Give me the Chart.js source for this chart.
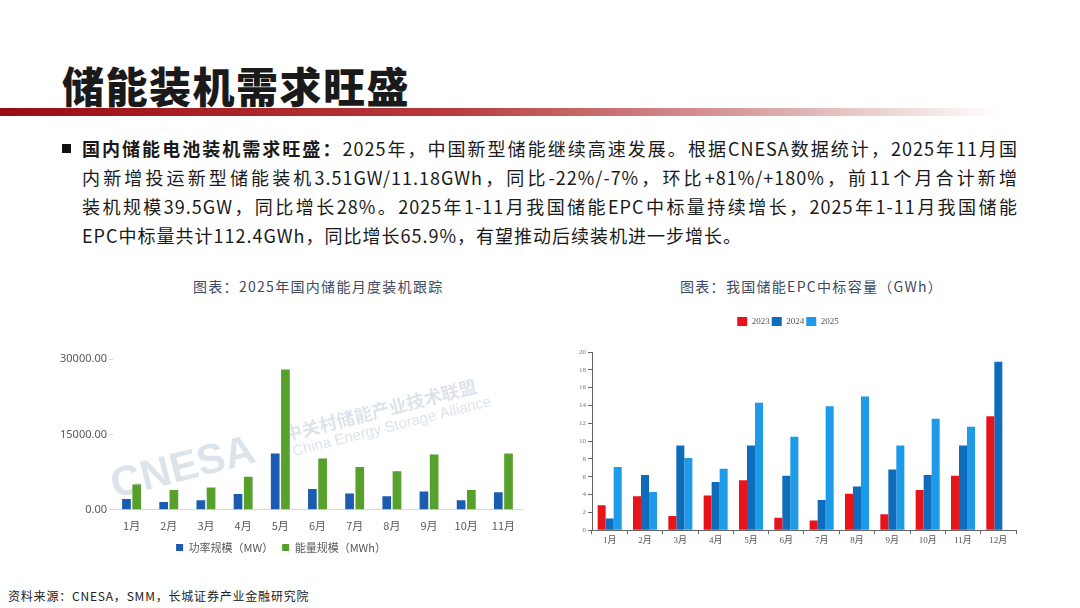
<!DOCTYPE html>
<html>
<head>
<meta charset="utf-8">
<script src="https://cdn.jsdelivr.net/npm/chart.js@4.4.1/dist/chart.umd.min.js"></script>
<style>
  html, body { margin: 0; padding: 0; background: #fff; }
  body { width: 1080px; height: 608px; position: relative; overflow: hidden;
         font-family: "Noto Sans CJK SC", "Noto Sans", sans-serif; }
  .title { position: absolute; left: 62px; top: 58px; font-size: 42px; font-weight: 900;
           letter-spacing: 1.5px; color: #1a1a1a; line-height: 54px; }
  .redbar { position: absolute; left: 0; top: 108px; width: 1000px; height: 8px;
            background: linear-gradient(to right, #9b0c10 0%, #b83a3c 45%, #d9a0a0 75%, #ffffff 100%); }
  .bullet { position: absolute; left: 62px; top: 144px; width: 9px; height: 9px; background: #111; }
  .body { position: absolute; left: 82px; top: 134px; width: 936px; font-size: 18px;
          line-height: 29px; color: #1a1a1a; letter-spacing: 1px; }
  .body div { white-space: nowrap; }
  .body .j { text-align: justify; text-align-last: justify; white-space: normal; }
  .ctitle { position: absolute; top: 276px; font-size: 14px; color: #3d4a63; letter-spacing: 1.3px; }
  .src { position: absolute; left: 8px; top: 587px; font-size: 12px; color: #222; letter-spacing: 0.8px; }
  .box { position: absolute; }
</style>
</head>
<body>
<div class="title">储能装机需求旺盛</div>
<div class="redbar"></div>
<div class="bullet"></div>
<div class="body">
  <div class="j"><b>国内储能电池装机需求旺盛：</b>2025年，中国新型储能继续高速发展。根据CNESA数据统计，2025年11月国</div>
  <div class="j">内新增投运新型储能装机3.51GW/11.18GWh，同比-22%/-7%，环比+81%/+180%，前11个月合计新增</div>
  <div class="j">装机规模39.5GW，同比增长28%。2025年1-11月我国储能EPC中标量持续增长，2025年1-11月我国储能</div>
  <div>EPC中标量共计112.4GWh，同比增长65.9%，有望推动后续装机进一步增长。</div>
</div>
<div class="ctitle" style="left:193px;">图表：2025年国内储能月度装机跟踪</div>
<div class="ctitle" style="left:680px;">图表：我国储能EPC中标容量（GWh）</div>
<div class="box" style="left:40px; top:350px; width:500px; height:213px;"><canvas id="leftChart"></canvas></div>
<div class="box" style="left:560px; top:309px; width:470px; height:238px;"><canvas id="rightChart"></canvas></div>
<div class="src">资料来源：CNESA，SMM，长城证券产业金融研究院</div>

<script>
// 2025 monthly installations (CNESA)
const months11 = ['1月', '2月', '3月', '4月', '5月', '6月', '7月', '8月', '9月', '10月', '11月'];
const powerMW = [2150, 1540, 1880, 3150, 11210, 4160, 3220, 2690, 3620, 1880, 3510];
const energyMWh = [5030, 3960, 4430, 6580, 27920, 10200, 8520, 7650, 11010, 3960, 11180];
const leftTicks = [0, 15000, 30000];

// EPC winning bid capacity, GWh
const months12 = ['1月', '2月', '3月', '4月', '5月', '6月', '7月', '8月', '9月', '10月', '11月', '12月'];
const epc2023 = [2.8, 3.8, 1.6, 3.9, 5.6, 1.4, 1.1, 4.1, 1.8, 4.5, 6.1, 12.8];
const epc2024 = [1.3, 6.2, 9.5, 5.4, 9.5, 6.1, 3.4, 4.9, 6.8, 6.2, 9.5, 18.9];
const epc2025 = [7.1, 4.3, 8.1, 6.9, 14.3, 10.5, 13.9, 15.0, 9.5, 12.5, 11.6, null];

const watermark = {
    id: 'watermark',
    beforeDatasetsDraw(chart) {
        const c = chart.ctx;
        c.save();
        c.translate(72, 137);
        c.rotate(-0.25);
        c.fillStyle = 'rgba(175,188,206,0.42)';
        c.font = 'bold 42px "Liberation Sans", sans-serif';
        c.fillText('CNESA', 0, 0);
        c.font = 'bold 18px "Noto Sans CJK SC", sans-serif';
        c.fillText('中关村储能产业技术联盟', 180, -8);
        c.font = '15px "Liberation Sans", sans-serif';
        c.fillText('China Energy Storage Alliance', 184, 11);
        c.restore();
    }
};

// extra room under the legend of the right chart
const legendGap = {
    id: 'legendGap',
    beforeInit(chart) {
        const fit = chart.legend.fit;
        chart.legend.fit = function () {
            fit.bind(chart.legend)();
            this.height += 16;
        };
    }
};

const ctx1 = document.getElementById('leftChart').getContext('2d');
new Chart(ctx1, {
    type: 'bar',
    data: {
        labels: months11,
        datasets: [{
            label: '功率规模（MW）',
            data: powerMW,
            backgroundColor: '#1b5cb0'
        }, {
            label: '能量规模（MWh）',
            data: energyMWh,
            backgroundColor: '#58a02c'
        }]
    },
    options: {
        responsive: true,
        maintainAspectRatio: false,
        animation: false,
        layout: { padding: { top: 9, right: 18, left: 0, bottom: 0 } },
        datasets: { bar: { categoryPercentage: 0.55, barPercentage: 0.85 } },
        plugins: {
            tooltip: { enabled: false },
            legend: {
                position: 'bottom',
                labels: {
                    boxWidth: 7, boxHeight: 7, padding: 9, color: '#595959',
                    font: { size: 11, family: '"Noto Sans CJK SC", sans-serif' }
                }
            }
        },
        scales: {
            x: {
                grid: { display: false },
                border: { color: '#d9d9d9' },
                ticks: { color: '#595959', padding: 1, font: { size: 11, family: '"Noto Sans CJK SC", sans-serif' } }
            },
            y: {
                min: 0, max: 30000,
                afterFit(scale) { scale.width = 73; },
                afterBuildTicks(scale) { scale.ticks = leftTicks.map(v => ({ value: v })); },
                grid: { drawOnChartArea: false, tickLength: 4, color: '#d9d9d9' },
                border: { display: false },
                ticks: {
                    color: '#595959', padding: 2,
                    font: { size: 11, family: '"Noto Sans", sans-serif' },
                    callback: v => v.toFixed(2)
                }
            }
        }
    },
    plugins: [watermark]
});

const serif = '"Liberation Serif", "Noto Sans CJK SC", serif';
const ctx2 = document.getElementById('rightChart').getContext('2d');
new Chart(ctx2, {
    type: 'bar',
    data: {
        labels: months12,
        datasets: [
            { label: '2023', data: epc2023, backgroundColor: '#e8141c' },
            { label: '2024', data: epc2024, backgroundColor: '#0e6cba' },
            { label: '2025', data: epc2025, backgroundColor: '#1e9be8' }
        ]
    },
    options: {
        responsive: true,
        maintainAspectRatio: false,
        animation: false,
        layout: { padding: { top: 6, right: 14, left: 0, bottom: 0 } },
        datasets: { bar: { categoryPercentage: 0.68, barPercentage: 1.0 } },
        plugins: {
            tooltip: { enabled: false },
            legend: {
                position: 'top',
                labels: {
                    boxWidth: 10, boxHeight: 9, padding: 2, color: '#555',
                    font: { size: 9, family: serif }
                }
            }
        },
        scales: {
            x: {
                grid: { drawOnChartArea: false, tickLength: 4, color: '#666' },
                border: { color: '#666' },
                ticks: { color: '#555', padding: 1, font: { size: 9, family: serif } }
            },
            y: {
                min: 0, max: 20,
                afterFit(scale) { scale.width = 32; },
                grid: { drawOnChartArea: false, tickLength: 4, color: '#666' },
                border: { color: '#666' },
                ticks: { stepSize: 2, color: '#777', padding: 2, font: { size: 7, family: serif } }
            }
        }
    },
    plugins: [legendGap]
});
</script>
</body>
</html>
